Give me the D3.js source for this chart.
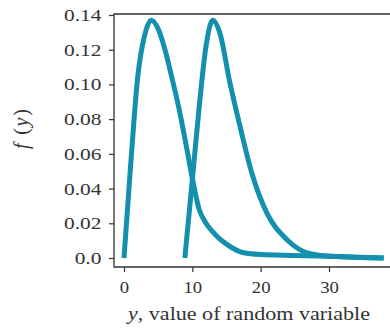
<!DOCTYPE html>
<html>
<head>
<meta charset="utf-8">
<script src="https://cdn.jsdelivr.net/npm/d3@7"></script>
<style>
  body { margin: 0; background: #fff; }
  svg text { font-family: "Liberation Serif", "Times New Roman", Times, serif; fill: #333; }
</style>
</head>
<body>
<div id="graph-container"></div>
<script>
// curve on the left (peak near y = 4)
const curveA = [
  [0, 0], [1, 0.055], [2, 0.104], [3, 0.128], [4, 0.137], [5, 0.132],
  [6, 0.12], [7, 0.104], [8, 0.087], [9, 0.067], [10, 0.046], [11, 0.028],
  [12, 0.02], [13, 0.015], [14, 0.011], [15, 0.008], [16, 0.0055],
  [17.5, 0.003], [20, 0.002], [25, 0.0015], [30, 0.001], [38, 0.0]
];
// curve on the right (peak near y = 13)
const curveB = [
  [8.9, 0], [10, 0.045], [11.1, 0.091], [12, 0.122], [13, 0.137], [14, 0.13],
  [15.5, 0.101], [17, 0.0755], [18.7, 0.049], [20.9, 0.026], [23.9, 0.0104],
  [26.8, 0.003], [30.2, 0.001], [38, 0.0]
];
const xTicks = [0, 10, 20, 30];
const yTicks = [0, 0.02, 0.04, 0.06, 0.08, 0.10, 0.12, 0.14];
const yTickLabels = ['0.0', '0.02', '0.04', '0.06', '0.08', '0.10', '0.12', '0.14'];

const width = 390;
const height = 329;
const lineColor = '#1390ad';
const serif = '"Liberation Serif", "Times New Roman", Times, serif';

const svg = d3.select('#graph-container')
  .append('svg')
  .attr('width', width)
  .attr('height', height);

const xScale = d3.scaleLinear().domain([0, 30]).range([124, 329]);
const yScale = d3.scaleLinear().domain([0, 0.14]).range([258, 15]);

const frameLeft = 114, frameTop = 14, frameBottom = 267, frameRight = 392;

// frame lines (left, top, bottom)
svg.append('path')
  .attr('d', `M${frameRight},${frameTop}H${frameLeft}V${frameBottom}H${frameRight}`)
  .attr('fill', 'none')
  .attr('stroke', '#333')
  .attr('stroke-width', 1.3);

const yAxis = svg.append('g')
  .attr('transform', `translate(${frameLeft},0)`)
  .call(d3.axisLeft(yScale).tickValues(yTicks).tickSize(5).tickPadding(5)
    .tickFormat((d, i) => yTickLabels[i]));
yAxis.attr('font-family', serif);
yAxis.select('.domain').remove();
yAxis.selectAll('line').attr('stroke', '#333').attr('stroke-width', 1.2);
yAxis.selectAll('text')
  .attr('font-size', 17)
  .attr('fill', '#333')
  .attr('transform', 'scale(1.26,1)');

const xAxis = svg.append('g')
  .attr('transform', `translate(0,${frameBottom})`)
  .call(d3.axisBottom(xScale).tickValues(xTicks).tickSize(5).tickPadding(9));
xAxis.attr('font-family', serif);
xAxis.select('.domain').remove();
xAxis.selectAll('line').attr('stroke', '#333').attr('stroke-width', 1.2);
xAxis.selectAll('text')
  .attr('font-size', 17)
  .attr('fill', '#333')
  .attr('transform', 'scale(1.1,1)');

const line = d3.line()
  .x(d => xScale(d[0]))
  .y(d => yScale(d[1]))
  .curve(d3.curveMonotoneX);

svg.append('g')
  .selectAll('path')
  .data([curveA, curveB])
  .join('path')
  .attr('d', line)
  .attr('fill', 'none')
  .attr('stroke', lineColor)
  .attr('stroke-width', 5)
  .attr('stroke-linejoin', 'round')
  .attr('stroke-linecap', 'butt');

// axis titles
const xLabel = svg.append('text')
  .attr('x', 249)
  .attr('y', 320)
  .attr('text-anchor', 'middle')
  .attr('font-size', 18)
  .attr('textLength', 242)
  .attr('lengthAdjust', 'spacingAndGlyphs');
xLabel.append('tspan').attr('font-style', 'italic').text('y');
xLabel.append('tspan').text(', value of random variable');

const yLabel = svg.append('text')
  .attr('transform', 'translate(28,129) rotate(-90)')
  .attr('text-anchor', 'middle')
  .attr('font-size', 20)
  .attr('textLength', 40)
  .attr('lengthAdjust', 'spacing');
yLabel.append('tspan').attr('font-style', 'italic').text('f');
yLabel.append('tspan').text(' (');
yLabel.append('tspan').attr('font-style', 'italic').text('y');
yLabel.append('tspan').text(')');
</script>
</body>
</html>
